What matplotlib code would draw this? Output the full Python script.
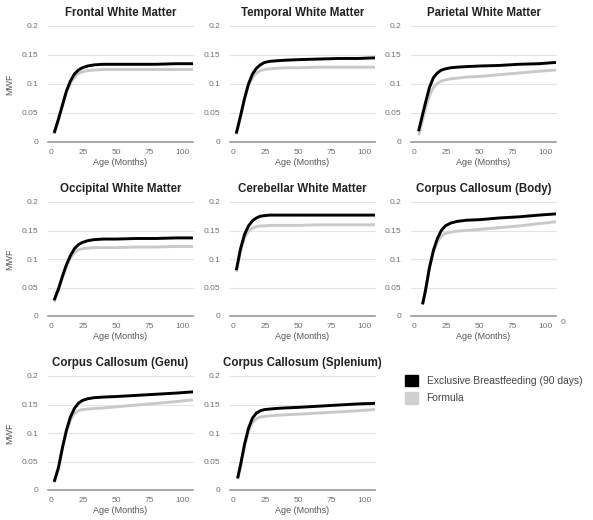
import matplotlib
matplotlib.use("Agg")
import matplotlib.pyplot as plt
from matplotlib.patches import Patch

plt.rcParams["font.family"] = ["Liberation Sans", "DejaVu Sans"]

BLACK = "#000000"
GREY = "#c9c9c9"

AGE = [3, 6, 9, 12, 15, 18, 21, 24, 28, 33, 40, 50, 65, 80, 95, 107]
AGE_PAR = [4, 6, 9, 12, 15, 18, 21, 24, 28, 33, 40, 50, 65, 80, 95, 107]
AGE_BODY = [7, 9, 12, 15, 18, 21, 24, 28, 33, 40, 50, 65, 80, 95, 107]

frontal_bf = [0.018, 0.040, 0.064, 0.088, 0.105, 0.117, 0.124, 0.128, 0.131, 0.133, 0.134, 0.134, 0.134, 0.134, 0.135, 0.135]
frontal_fm = [0.016, 0.039, 0.063, 0.086, 0.102, 0.112, 0.118, 0.121, 0.123, 0.124, 0.125, 0.125, 0.125, 0.125, 0.125, 0.125]

temporal_bf = [0.017, 0.045, 0.075, 0.100, 0.117, 0.127, 0.133, 0.137, 0.139, 0.140, 0.141, 0.142, 0.143, 0.144, 0.144, 0.145]
temporal_fm = [0.016, 0.044, 0.073, 0.097, 0.111, 0.119, 0.123, 0.125, 0.126, 0.127, 0.128, 0.128, 0.129, 0.129, 0.129, 0.129]

parietal_bf = [0.021, 0.040, 0.068, 0.094, 0.111, 0.119, 0.124, 0.126, 0.128, 0.129, 0.130, 0.131, 0.132, 0.134, 0.135, 0.137]
parietal_fm = [0.014, 0.031, 0.058, 0.080, 0.094, 0.101, 0.105, 0.107, 0.109, 0.110, 0.112, 0.113, 0.116, 0.119, 0.122, 0.124]

occipital_bf = [0.030, 0.048, 0.070, 0.090, 0.106, 0.118, 0.125, 0.129, 0.132, 0.134, 0.135, 0.135, 0.136, 0.136, 0.137, 0.137]
occipital_fm = [0.027, 0.046, 0.068, 0.088, 0.102, 0.111, 0.116, 0.118, 0.119, 0.120, 0.120, 0.120, 0.121, 0.121, 0.122, 0.122]

cerebellar_bf = [0.083, 0.118, 0.143, 0.158, 0.167, 0.172, 0.175, 0.176, 0.177, 0.177, 0.177, 0.177, 0.177, 0.177, 0.177, 0.177]
cerebellar_fm = [0.080, 0.114, 0.137, 0.149, 0.154, 0.157, 0.158, 0.158, 0.159, 0.159, 0.159, 0.159, 0.160, 0.160, 0.160, 0.160]

body_bf = [0.023, 0.045, 0.085, 0.115, 0.136, 0.150, 0.158, 0.163, 0.166, 0.168, 0.169, 0.172, 0.174, 0.177, 0.179]
body_fm = [0.022, 0.044, 0.084, 0.112, 0.130, 0.140, 0.145, 0.147, 0.149, 0.150, 0.152, 0.155, 0.158, 0.162, 0.165]

genu_bf = [0.017, 0.040, 0.075, 0.105, 0.128, 0.143, 0.152, 0.157, 0.160, 0.162, 0.163, 0.164, 0.166, 0.168, 0.170, 0.172]
genu_fm = [0.015, 0.038, 0.073, 0.102, 0.123, 0.134, 0.139, 0.141, 0.142, 0.143, 0.144, 0.146, 0.149, 0.152, 0.155, 0.158]

splenium_bf = [0.023, 0.044, 0.080, 0.108, 0.126, 0.135, 0.139, 0.141, 0.142, 0.143, 0.144, 0.145, 0.147, 0.149, 0.151, 0.152]
splenium_fm = [0.021, 0.042, 0.077, 0.103, 0.118, 0.125, 0.128, 0.129, 0.130, 0.131, 0.132, 0.133, 0.135, 0.137, 0.139, 0.141]

panels = [
    ("Frontal White Matter", AGE, frontal_bf, frontal_fm),
    ("Temporal White Matter", AGE, temporal_bf, temporal_fm),
    ("Parietal White Matter", AGE_PAR, parietal_bf, parietal_fm),
    ("Occipital White Matter", AGE, occipital_bf, occipital_fm),
    ("Cerebellar White Matter", AGE, cerebellar_bf, cerebellar_fm),
    ("Corpus Callosum (Body)", AGE_BODY, body_bf, body_fm),
    ("Corpus Callosum (Genu)", AGE, genu_bf, genu_fm),
    ("Corpus Callosum (Splenium)", AGE_PAR, splenium_bf, splenium_fm),
]

Y_TICKS = [0, 0.05, 0.1, 0.15, 0.2]
Y_LABELS = ["0", "0.05", "0.1", "0.15", "0.2"]
X_TICKS = [0, 25, 50, 75, 100]

W, H = 593, 520
COLS = [(48, 193), (230, 375), (411, 556)]
ROWS = [(26, 142), (202, 316), (376, 490)]


def px_axes(fig, x0, x1, y0, y1):
    return fig.add_axes([x0 / W, 1 - y1 / H, (x1 - x0) / W, (y1 - y0) / H])


fig = plt.figure(figsize=(W / 100, H / 100), dpi=100)

for i, (title, age, bf, fm) in enumerate(panels):
    r, c = divmod(i, 3)
    ax = px_axes(fig, COLS[c][0], COLS[c][1], ROWS[r][0], ROWS[r][1])
    for yv in Y_TICKS[1:]:
        ax.axhline(yv, color="#e3e3e3", lw=0.8, clip_on=False, zorder=0)
    ax.axhline(0, color="#9a9a9a", lw=1.2, clip_on=False, zorder=1)
    ax.plot(age, fm, color=GREY, lw=2.1, solid_joinstyle="round", zorder=2)
    ax.plot(age, bf, color=BLACK, lw=2.1, solid_joinstyle="round", zorder=3)
    ax.set_xlim(-2, 108)
    ax.set_ylim(0, 0.2)
    ax.set_yticks(Y_TICKS)
    ax.set_yticklabels(Y_LABELS)
    ax.set_xticks(X_TICKS)
    for s in ax.spines.values():
        s.set_visible(False)
    ax.tick_params(length=0, labelsize=6.0, labelcolor="#707070")
    ax.tick_params(axis="y", pad=7)
    ax.tick_params(axis="x", pad=5)
    ax.set_title(title, fontsize=8.3, fontweight="bold", color="#222222", pad=7)
    ax.set_xlabel("Age (Months)", fontsize=6.5, color="#555555", labelpad=1.5)
    if c == 0:
        ax.set_ylabel("MWF", fontsize=6.5, color="#555555", labelpad=5)

# stray label that sits beside the Body panel in the original
fig.text(563 / W, 1 - 322 / H, "0", fontsize=6.0, color="#707070", ha="center", va="center")

handles = [Patch(facecolor=BLACK, edgecolor=BLACK),
           Patch(facecolor="#d0d0d0", edgecolor="#d0d0d0")]
fig.legend(handles, ["Exclusive Breastfeeding (90 days)", "Formula"],
           loc="upper left", bbox_to_anchor=(405 / W, 1 - 375 / H),
           frameon=False, fontsize=7.4, labelcolor="#444444",
           handlelength=1.3, handleheight=1.3, handletextpad=0.8,
           labelspacing=0.6, borderpad=0, borderaxespad=0)

fig.savefig("out.png", dpi=100)
